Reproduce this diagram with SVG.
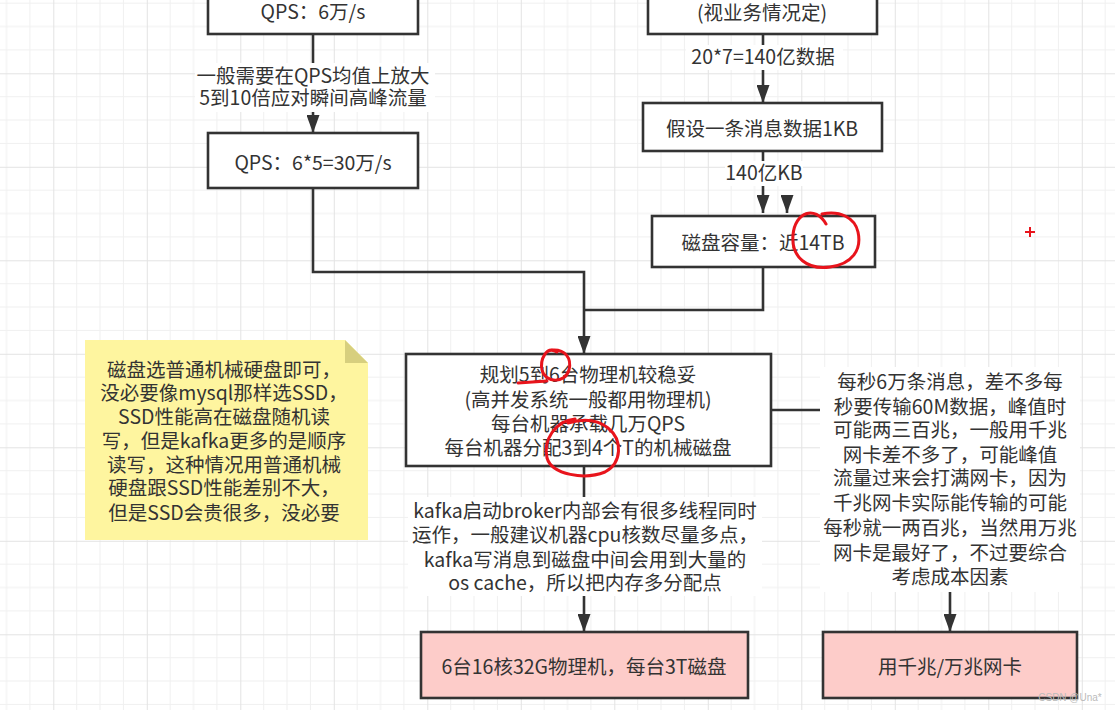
<svg xmlns="http://www.w3.org/2000/svg" width="1115" height="710" viewBox="0 0 1115 710">
<style>
.t{font-family:"Noto Sans CJK SC","Microsoft YaHei",sans-serif;font-size:19.5px;fill:#333;text-anchor:middle}
.box{fill:#fff;stroke:#333;stroke-width:2.6}
.pink{fill:#fdccc9;stroke:#333;stroke-width:2.6}
.edge{fill:none;stroke:#333;stroke-width:2.6}
.lbl{fill:#fff}
.red{fill:none;stroke:#e8141c;stroke-width:3;stroke-linecap:round;stroke-linejoin:round}
</style>
<defs>
<pattern id="grid" x="53.3" y="73.3" width="93.5" height="93.5" patternUnits="userSpaceOnUse">
<path d="M23.375 0V93.5M46.75 0V93.5M70.125 0V93.5M0 23.375H93.5M0 46.75H93.5M0 70.125H93.5" stroke="#f0f0f0" stroke-width="1" fill="none"/>
<path d="M0.5 0V93.5M0 0.5H93.5" stroke="#e3e3e3" stroke-width="1" fill="none"/>
</pattern>
<marker id="arr" viewBox="0 0 18 13" refX="18" refY="6.5" markerWidth="18" markerHeight="13" orient="auto" markerUnits="userSpaceOnUse">
<path d="M0 0L18 6.5L0 13Z" fill="#333"/>
</marker>
</defs>
<rect width="1115" height="710" fill="#fff"/>
<rect width="1115" height="710" fill="url(#grid)"/>

<g id="connectors">
<path class="edge" d="M313 34V133" marker-end="url(#arr)"/>
<path class="edge" d="M763 34V103" marker-end="url(#arr)"/>
<path class="edge" d="M763 151V213" marker-end="url(#arr)"/>
<path class="edge" d="M787 196V213" marker-end="url(#arr)"/>
<path class="edge" d="M313 188V272H584V354" marker-end="url(#arr)"/>
<path class="edge" d="M763 267V310H584"/>
<path class="edge" d="M771 410H950V632" marker-end="url(#arr)"/>
<path class="edge" d="M584 466V632" marker-end="url(#arr)"/>
<g id="edge-labels">
<rect class="lbl" x="195" y="63" width="240" height="49"/>
<text class="t" x="313" y="83">一般需要在QPS均值上放大</text>
<text class="t" x="313" y="105">5到10倍应对瞬间高峰流量</text>
<rect class="lbl" x="686" y="45" width="157" height="25"/>
<text class="t" x="763" y="64">20*7=140亿数据</text>
<rect class="lbl" x="725" y="161" width="78" height="25"/>
<text class="t" x="764" y="180">140亿KB</text>
<rect class="lbl" x="408" y="497" width="354" height="99"/>
<text class="t" x="585" y="518">kafka启动broker内部会有很多线程同时</text>
<text class="t" x="585" y="542">运作，一般建议机器cpu核数尽量多点，</text>
<text class="t" x="585" y="567">kafka写消息到磁盘中间会用到大量的</text>
<text class="t" x="585" y="590">os cache，所以把内存多分配点</text>
<rect class="lbl" x="820" y="367" width="260" height="225"/>
<text class="t" x="950" y="389">每秒6万条消息，差不多每</text>
<text class="t" x="950" y="414">秒要传输60M数据，峰值时</text>
<text class="t" x="950" y="437">可能两三百兆，一般用千兆</text>
<text class="t" x="950" y="462">网卡差不多了，可能峰值</text>
<text class="t" x="950" y="485">流量过来会打满网卡，因为</text>
<text class="t" x="950" y="510">千兆网卡实际能传输的可能</text>
<text class="t" x="950" y="535">每秒就一两百兆，当然用万兆</text>
<text class="t" x="950" y="560">网卡是最好了，不过要综合</text>
<text class="t" x="950" y="584">考虑成本因素</text>
</g>
</g>

<g id="node-qps">
<rect class="box" x="208" y="-30" width="210" height="64"/>
<text class="t" x="313" y="19">QPS：6万/s</text>
</g>
<g id="node-qps-peak">
<rect class="box" x="208" y="133" width="210" height="55"/>
<text class="t" x="313" y="170">QPS：6*5=30万/s</text>
</g>
<g id="node-biz">
<rect class="box" x="648" y="-40" width="229" height="74"/>
<text class="t" x="762" y="20">(视业务情况定)</text>
</g>
<g id="node-msg-size">
<rect class="box" x="643" y="103" width="239" height="48"/>
<text class="t" x="762" y="136">假设一条消息数据1KB</text>
</g>
<g id="node-disk">
<rect class="box" x="652" y="216" width="223" height="51"/>
<text class="t" x="763" y="250">磁盘容量：近14TB</text>
</g>
<g id="node-plan">
<rect class="box" x="406" y="354" width="365" height="112"/>
<text class="t" x="588" y="382">规划5到6台物理机较稳妥</text>
<text class="t" x="588" y="407">(高并发系统一般都用物理机)</text>
<text class="t" x="588" y="431">每台机器承载几万QPS</text>
<text class="t" x="588" y="455">每台机器分配3到4个T的机械磁盘</text>
</g>
<g id="node-note">
<path d="M85 340H345L368 363V540H85Z" fill="#fef59f"/>
<path d="M345 340V363H368Z" fill="#d7cf7e"/>
<text class="t" x="224" y="377">磁盘选普通机械硬盘即可，</text>
<text class="t" x="224" y="400">没必要像mysql那样选SSD，</text>
<text class="t" x="224" y="424">SSD性能高在磁盘随机读</text>
<text class="t" x="224" y="448">写，但是kafka更多的是顺序</text>
<text class="t" x="224" y="472">读写，这种情况用普通机械</text>
<text class="t" x="224" y="495">硬盘跟SSD性能差别不大，</text>
<text class="t" x="224" y="520">但是SSD会贵很多，没必要</text>
</g>
<g id="node-machines">
<rect class="pink" x="421" y="632" width="327" height="66"/>
<text class="t" x="584" y="674">6台16核32G物理机，每台3T磁盘</text>
</g>
<g id="node-nic">
<rect class="pink" x="823" y="632" width="254" height="66"/>
<text class="t" x="950" y="674">用千兆/万兆网卡</text>
</g>

<g id="annotations">
<path class="red" d="M826 224C815 205 795 212 793 235C791 258 808 270 830 267C852 264 862 250 858 232C855 218 840 210 822 214"/>
<path class="red" d="M557 352C546 345 540 360 542 370C545 383 565 384 569 370C572 358 565 349 552 350"/>
<path class="red" d="M518 383L547 381"/>
<path class="red" d="M575 419C555 421 543 440 547 458C552 475 585 480 605 472C622 463 623 440 608 428C598 420 585 418 568 423"/>
<path d="M1025 232H1035M1030 227V237" stroke="#e8141c" stroke-width="2"/>
<text x="1070" y="701" font-family="Liberation Sans,sans-serif" font-size="10" fill="#bbb" text-anchor="middle">CSDN @Una*</text>
</g>
</svg>
